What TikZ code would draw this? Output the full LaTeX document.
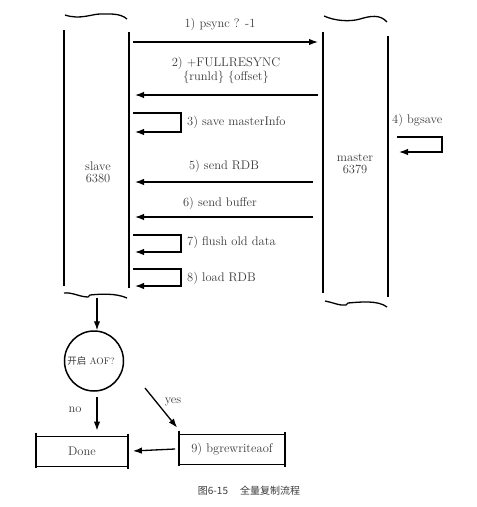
\documentclass[tikz,border=0pt]{standalone}
\usepackage{fontspec}
\newfontfamily\cjk{Noto Sans CJK SC}
\usepackage{xcolor}
\usepackage{tikz}
\usetikzlibrary{positioning,arrows.meta,shapes.geometric}
\definecolor{inkgray}{HTML}{3A3A3A}

\tikzset{
	pipe/.style={line width=1.6pt},
	wave/.style={line width=1.3pt},
	msg/.style={-{Latex[length=9pt,width=6.5pt]},line width=1.3pt},
	lbl/.style={text=inkgray,font=\fontsize{12.5}{14}\selectfont,inner sep=1pt},
	endbox/.style={draw,line width=0.8pt,minimum height=30pt,text=inkgray,font=\fontsize{12.5}{14}\selectfont},
}

\begin{document}
\begin{tikzpicture}[x=1pt,y=-1pt]
		\useasboundingbox (0,0) rectangle (477,507);
		% slave column
		\draw[pipe] (64,30) -- (64,286);
		\draw[pipe] (129,32) -- (129,288);
		\draw[wave] (65,15) .. controls (80,20) and (92,14) .. (100,14) .. controls (110,14) and (120,13) .. (127,19);
		\draw[wave] (64,293) .. controls (72,292) and (80,297) .. (88,297) -- (90,295) .. controls (100,294) and (116,293) .. (127,298);
		\node[lbl] (slave) at (98,166) {slave};
		\node[lbl,below=1pt of slave] (slaveport) {6380};
		% master column
		\draw[pipe] (323,32) -- (323,293);
		\draw[pipe] (388,36) -- (388,297);
		\draw[wave] (324,16) .. controls (335,21) and (350,22) .. (360,19) .. controls (370,16) and (380,14) .. (387,22);
		\draw[wave] (325,301) .. controls (335,303) and (340,306) .. (346,305) -- (348,303) .. controls (360,302) and (378,300) .. (387,307);
		\node[lbl] (master) at (355,158) {master};
		\node[lbl,below=1pt of master] (masterport) {6379};
		% messages
		\coordinate (s1) at (133,42);  \coordinate (m1) at (318,42);
		\coordinate (s2) at (135,95);  \coordinate (m2) at (318,95);
		\coordinate (s5) at (135,182); \coordinate (m5) at (313,182);
		\coordinate (s6) at (135,217); \coordinate (m6) at (313,217);
		\draw[msg] (s1) -- (m1);
		\draw[msg] (m2) -- (s2);
		\draw[msg] (m5) -- (s5);
		\draw[msg] (m6) -- (s6);
		\node[lbl] (psync) at (220,24) {1) psync ? -1};
		\node[lbl,align=center] (fullsync) at (226,70) {2) +FULLRESYNC\\\{runld\} \{offset\}};
		\node[lbl] (sendrdb) at (224,166) {5) send RDB};
		\node[lbl] (sendbuf) at (220,203) {6) send buffer};
		% self loops
		\draw[msg] (133,113) -| (181,132) -- (135,132);
		\draw[msg] (397,137) -| (442,152) -- (399,152);
		\draw[msg] (133,235) -| (181,252) -- (135,252);
		\draw[msg] (133,269) -| (181,286) -- (135,286);
		\node[lbl,anchor=west] (saveinfo) at (186,122) {3) save masterInfo};
		\node[lbl,anchor=west] (bgsave) at (391,120) {4) bgsave};
		\node[lbl,anchor=west] (flush) at (186,242) {7) flush old data};
		\node[lbl,anchor=west] (loadrdb) at (186,278) {8) load RDB};
		% after loading
		\coordinate (sbot) at (97,298);
		\node[ellipse,draw,line width=1.5pt,minimum width=59pt,minimum height=60pt,inner sep=0pt] (aof) at (94,361) {};
		\node[text=inkgray,font=\fontsize{9.5}{11}\selectfont,inner sep=0pt] (aoftext) at ([xshift=-3pt]aof.center) {{\cjk 开启} AOF?};
		\draw[msg] (sbot) -- ([xshift=3pt]aof.north);
		\node[endbox,minimum width=91pt] (done) at (82,451) {Done};
		\node[endbox,minimum width=105pt] (rew) at (232,449) {9) bgrewriteaof};
		\foreach \b in {done,rew} {
			\draw[pipe] ([yshift=3pt]\b.north west) -- ([yshift=-2pt]\b.south west);
			\draw[pipe] ([yshift=2pt]\b.north east) -- ([yshift=-3pt]\b.south east);
		}
		\coordinate (yes0) at (145,388);
		\draw[msg] ([shift={(3pt,-5pt)}]aof.south) -- ([shift={(15pt,5pt)}]done.north);
		\draw[msg] (yes0) -- ([shift={(-2pt,6pt)}]rew.north west);
		\draw[msg] ([xshift=-4pt]rew.west) -- ([xshift=5pt]done.east);
		\node[lbl] (no) at (75,410) {no};
		\node[lbl] (yes) at (173,402) {yes};
		% caption
		\node[text=inkgray,font=\cjk\fontsize{10}{12}\selectfont] (caption) at (249,491) {图6-15\hspace{1.2em}全量复制流程};
	\end{tikzpicture}
\end{document}
